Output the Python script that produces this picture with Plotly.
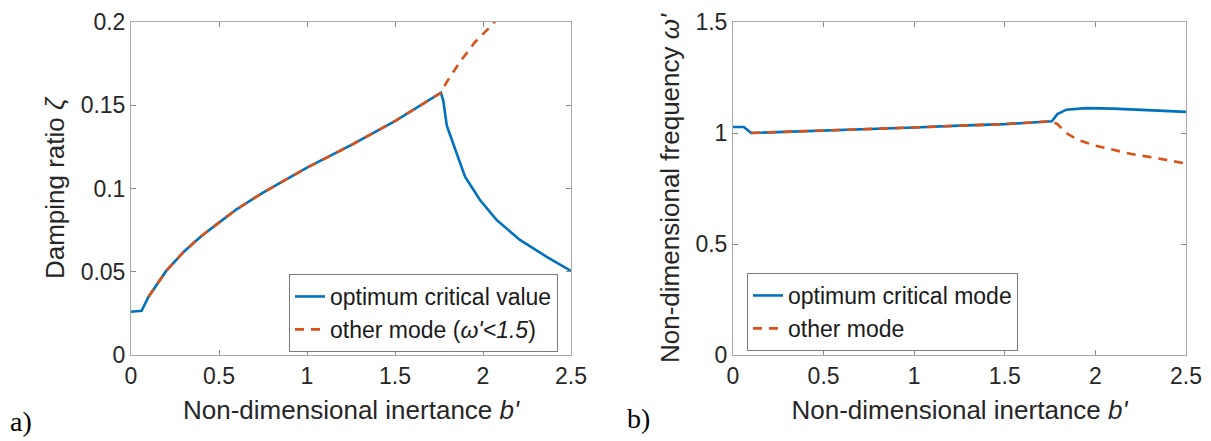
import plotly.graph_objects as go

# ---------------- data ----------------
# Panel a) damping ratio vs non-dimensional inertance
b_crit_a = [0, 0.06, 0.1, 0.2, 0.3, 0.4, 0.5, 0.6, 0.75, 1.0, 1.25, 1.5, 1.761,
            1.774, 1.794, 1.803, 1.898, 1.983, 2.078, 2.21, 2.362, 2.5]
zeta_crit = [0.026, 0.0265, 0.035, 0.0505, 0.062, 0.0715, 0.0795, 0.0875, 0.0975,
             0.1125, 0.126, 0.1405, 0.1575, 0.153, 0.138, 0.1351, 0.1071, 0.0931,
             0.0811, 0.0691, 0.059, 0.0505]
b_other_a = [0.1, 0.2, 0.3, 0.4, 0.5, 0.6, 0.75, 1.0, 1.25, 1.5, 1.761,
             1.794, 1.869, 1.955, 2.059, 2.1]
zeta_other = [0.035, 0.0505, 0.062, 0.0715, 0.0795, 0.0875, 0.0975, 0.1125, 0.126,
              0.1405, 0.1575, 0.164, 0.176, 0.188, 0.199, 0.206]

# Panel b) non-dimensional frequency vs non-dimensional inertance
b_crit_b = [0, 0.06, 0.1, 0.3, 0.5, 0.75, 1.0, 1.25, 1.5, 1.76, 1.79, 1.84,
            1.95, 2.1, 2.3, 2.5]
omega_crit = [1.027, 1.027, 1.0, 1.005, 1.01, 1.017, 1.025, 1.033, 1.04, 1.053,
              1.085, 1.105, 1.112, 1.11, 1.103, 1.095]
b_other_b = [0.1, 0.3, 0.5, 0.75, 1.0, 1.25, 1.5, 1.76, 1.79, 1.84, 1.9, 2.0,
             2.1, 2.2, 2.35, 2.5]
omega_other = [1.0, 1.005, 1.01, 1.017, 1.025, 1.033, 1.04, 1.053, 1.04, 1.0,
               0.97, 0.943, 0.925, 0.905, 0.885, 0.862]

x_ticks = [0, 0.5, 1, 1.5, 2, 2.5]
x_ticktext = ["0", "0.5", "1", "1.5", "2", "2.5"]
ya_ticks = [0, 0.05, 0.1, 0.15, 0.2]
ya_ticktext = ["0", "0.05", "0.1", "0.15", "0.2"]
yb_ticks = [0, 0.5, 1, 1.5]
yb_ticktext = ["0", "0.5", "1", "1.5"]

# ---------------- style ----------------
BLUE = "#0072BD"
ORANGE = "#D95319"
SANS = "Liberation Sans, Arial, sans-serif"
SERIF = "Liberation Serif, Times New Roman, serif"
W, H = 1211, 441

fig = go.Figure()
fig.add_trace(go.Scatter(x=b_crit_a, y=zeta_crit, mode="lines", name="optimum critical value",
                         line=dict(color=BLUE, width=2.6), xaxis="x", yaxis="y", legend="legend"))
fig.add_trace(go.Scatter(x=b_other_a, y=zeta_other, mode="lines", name="other mode (<i>ω'&lt;1.5</i>)",
                         line=dict(color=ORANGE, width=2.6, dash="9px,7px"), xaxis="x", yaxis="y",
                         legend="legend"))
fig.add_trace(go.Scatter(x=b_crit_b, y=omega_crit, mode="lines", name="optimum critical mode",
                         line=dict(color=BLUE, width=2.6), xaxis="x2", yaxis="y2", legend="legend2"))
fig.add_trace(go.Scatter(x=b_other_b, y=omega_other, mode="lines", name="other mode",
                         line=dict(color=ORANGE, width=2.6, dash="9px,7px"), xaxis="x2", yaxis="y2",
                         legend="legend2"))

def px_x(p):
    return p / W

def px_y(p):
    return 1 - p / H

common = dict(showline=True, linecolor="#a8a8a8", linewidth=1, mirror="ticks",
              ticks="inside", ticklen=5, tickcolor="#888888", showgrid=False, zeroline=False,
              automargin=False,
              tickfont=dict(family=SANS, size=23, color="#262626"))
title_font = dict(family=SANS, size=26, color="#262626")

fig.update_layout(
    width=W, height=H,
    margin=dict(l=0, r=0, t=0, b=0, autoexpand=False),
    paper_bgcolor="white", plot_bgcolor="white",
    xaxis=dict(domain=[px_x(131), px_x(571)], range=[0, 2.5], anchor="y",
               tickvals=x_ticks, ticktext=x_ticktext,
               title=dict(text="Non-dimensional inertance <i>b'</i>", font=title_font, standoff=13),
               **common),
    yaxis=dict(domain=[px_y(355), px_y(22)], range=[0, 0.2], anchor="x",
               tickvals=ya_ticks, ticktext=ya_ticktext,
               title=dict(text="Damping ratio <i>ζ</i>", font=title_font, standoff=8),
               **common),
    xaxis2=dict(domain=[px_x(733), px_x(1186)], range=[0, 2.5], anchor="y2",
                tickvals=x_ticks, ticktext=x_ticktext,
                title=dict(text="Non-dimensional inertance <i>b'</i>", font=title_font, standoff=13),
                **common),
    yaxis2=dict(domain=[px_y(355), px_y(22)], range=[0, 1.5], anchor="x2",
                tickvals=yb_ticks, ticktext=yb_ticktext,
                title=dict(text="Non-dimensional frequency <i>ω'</i>", font=title_font, standoff=8),
                **common),
    legend=dict(x=px_x(289), y=px_y(274), xanchor="left", yanchor="top",
                bgcolor="white", bordercolor="#7a7a7a", borderwidth=1,
                font=dict(family=SANS, size=23, color="#1a1a1a"), tracegroupgap=0),
    legend2=dict(x=px_x(747), y=px_y(273), xanchor="left", yanchor="top",
                 bgcolor="white", bordercolor="#7a7a7a", borderwidth=1,
                 font=dict(family=SANS, size=23, color="#1a1a1a"), tracegroupgap=0),
    annotations=[
        dict(text="a)", x=px_x(8), y=px_y(421), xref="paper", yref="paper",
             xanchor="left", yanchor="middle", showarrow=False,
             font=dict(family=SERIF, size=28, color="black")),
        dict(text="b)", x=px_x(625), y=px_y(418), xref="paper", yref="paper",
             xanchor="left", yanchor="middle", showarrow=False,
             font=dict(family=SERIF, size=28, color="black")),
    ],
)

fig.write_html("out.html")
